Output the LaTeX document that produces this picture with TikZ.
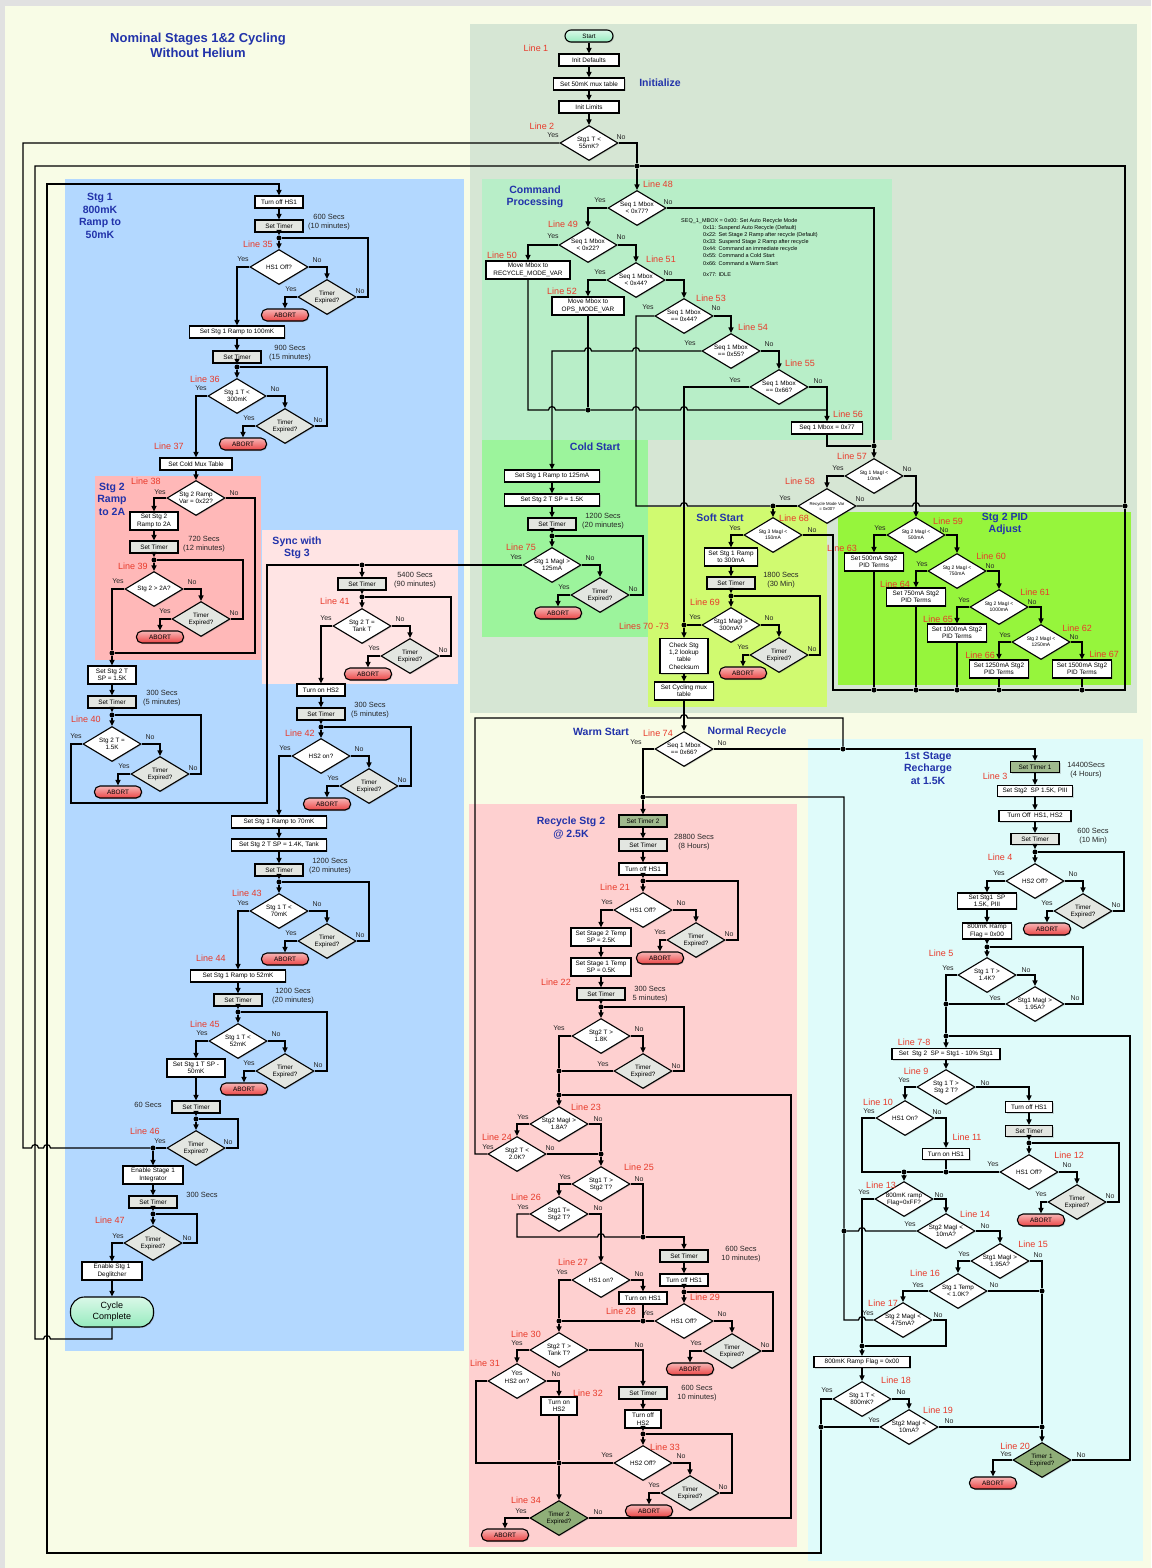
\documentclass[tikz,border=0pt]{standalone}
\usepackage{fontspec}
\setmainfont{Liberation Sans}
\usetikzlibrary{arrows.meta,shapes.geometric,shadows}
\definecolor{bgY}{RGB}{248,252,230}
\definecolor{edgeG}{RGB}{225,225,225}
\definecolor{initG}{RGB}{214,230,212}
\definecolor{cmdG}{RGB}{184,238,200}
\definecolor{coldG}{RGB}{156,244,156}
\definecolor{softY}{RGB}{208,250,112}
\definecolor{pidG}{RGB}{150,245,60}
\definecolor{stgB}{RGB}{179,216,255}
\definecolor{rampR}{RGB}{255,184,184}
\definecolor{syncP}{RGB}{255,228,228}
\definecolor{recP}{RGB}{254,208,208}
\definecolor{rechC}{RGB}{223,251,250}
\definecolor{ttlB}{RGB}{34,51,170}
\definecolor{lnR}{RGB}{232,58,42}
\definecolor{oliveG}{RGB}{160,186,142}
\definecolor{oliveD}{RGB}{143,174,120}
\definecolor{timG}{RGB}{227,230,225}
\definecolor{abR}{RGB}{235,70,70}
\definecolor{termG}{RGB}{150,235,190}
\tikzset{
 shd/.style={drop shadow={opacity=0.3, shadow xshift=1pt, shadow yshift=-1pt}},
 bx/.style={draw, line width=1.1pt, fill=white, align=center, inner sep=0.5pt,
   font=\fontsize{6.4}{7.4}\selectfont, minimum height=12pt, shd},
 tbx/.style={bx, fill=timG},
 obx/.style={bx, fill=oliveG},
 dia/.style={diamond, aspect=1.66, draw, line width=1.1pt, fill=white, align=center, inner sep=0pt,
   minimum width=58pt, minimum height=35pt, font=\fontsize{6.3}{7}\selectfont, shd},
 sdia/.style={dia, font=\fontsize{5}{5.8}\selectfont},
 tdia/.style={dia, fill=timG},
 odia/.style={dia, fill=oliveD},
 abort/.style={draw, line width=1.1pt, rounded corners=5.5pt, minimum width=47pt, minimum height=12pt,
   inner sep=0pt, top color=abR!40, bottom color=abR, font=\fontsize{6.4}{7}\selectfont, shd},
 term/.style={draw, line width=1.1pt, rounded corners=6pt, top color=termG!35, bottom color=termG, inner sep=0pt, shd},
 dot/.style={circle, fill=black, inner sep=0pt, minimum size=5pt},
 ln/.style={draw, line width=1.25pt},
 ar/.style={draw, line width=1.25pt, -{Triangle[length=5.5pt,width=5pt]}},
 lbl/.style={text=lnR, font=\fontsize{9}{10}\selectfont, inner sep=0pt},
 yn/.style={font=\fontsize{7}{8}\selectfont, text=black!85, inner sep=0pt},
 note/.style={font=\fontsize{7.5}{9.5}\selectfont, align=center, text=black!85, inner sep=0pt},
 ttl/.style={text=ttlB, font=\bfseries\fontsize{10.5}{12.5}\selectfont, align=center, inner sep=0pt},
 seq/.style={font=\fontsize{5.5}{7.2}\selectfont, inner sep=0pt, align=left},
}
% #1 name, #2 Dx, #3 Dy, #4 text, #5 Tx, #6 loop x, #7 abort x
\newcommand{\waitloop}[7]{%
 \node[dot] (#1j) at (#2,{#3-29}) {};
 \node[dia] (#1d) at (#2,#3) {#4};
 \node[tdia] (#1t) at (#5,{#3+30}) {Timer\\Expired?};
 \node[abort] (#1a) at (#7,{#3+48}) {ABORT};
 \draw[ar] (#1j) -- (#1d);
 \draw[ar] (#1d.east) -| (#1t.north);
 \draw[ar] (#1t.west) -| (#1a.north);
 \draw[ln] (#1t.east) -| (#6,{#3-29}) -- (#1j);
 \node[yn] at ({#2+38},{#3-7}) {No};
 \node[yn] at ({#5-36},{#3+22}) {Yes};
 \node[yn] at ({#5+33},{#3+24}) {No};
 \node[yn] at ({#2-36},{#3-8}) {Yes};
}
\newcommand{\hopR}[2]{-- ({#1-3.5},#2) .. controls ({#1-3.5},{#2-4.5}) and ({#1+3.5},{#2-4.5}) .. ({#1+3.5},#2)}
\newcommand{\hopL}[2]{-- ({#1+3.5},#2) .. controls ({#1+3.5},{#2-4.5}) and ({#1-3.5},{#2-4.5}) .. ({#1-3.5},#2)}
\begin{document}
\begin{tikzpicture}[x=1pt,y=-1pt]
\useasboundingbox (0,0) rectangle (1151,1568);
% ---------- backgrounds
\fill[edgeG] (0,0) rectangle (1151,1568);
\fill[bgY] (5,6) rectangle (1151,1568);
\fill[initG] (470,24) rectangle (1137,713);
\fill[cmdG] (482,179) rectangle (892,440);
\fill[coldG] (482,440) rectangle (648,637);
\fill[softY] (648,507) rectangle (827,707);
\fill[pidG] (838,512) rectangle (1131,685);
\fill[stgB] (65,179) rectangle (464,1351);
\fill[rampR] (95,476) rectangle (261,660);
\fill[syncP] (262,530) rectangle (458,684);
\fill[recP] (469,804) rectangle (797,1547);
\fill[rechC] (808,739) rectangle (1143,1561);

\node[ttl, font=\bfseries\fontsize{13}{15}\selectfont] (title) at (198,45) {Nominal Stages 1\&2 Cycling\\Without Helium};

% ---------- Initialize
\node[term, minimum width=48pt, minimum height=12pt, font=\fontsize{6.3}{7}\selectfont] (start) at (589,36) {Start};
\node[bx, minimum width=60pt] (idef) at (589,60) {Init Defaults};
\node[bx, minimum width=71pt] (mux50) at (589,84) {Set 50mK mux table};
\node[bx, minimum width=60pt] (ilim) at (589,107) {Init Limits};
\node[dia] (d2) at (589,143) {Stg1 T <\\55mK?};
\node[ttl] (tinit) at (660,83) {Initialize};
\node[lbl] at (536,48) {Line 1};
\node[lbl] at (542,126) {Line 2};
\node[yn] at (553,135) {Yes};
\node[yn] at (621,137) {No};
\draw[ar] (start) -- (idef);
\draw[ar] (idef) -- (mux50);
\draw[ar] (mux50) -- (ilim);
\draw[ar] (ilim) -- (d2);
\node[dot] (jtop) at (637,166) {};
\draw[ln] (d2.east) -| (jtop);

% ---------- Command processing
\node[ttl] (tcmd) at (535,197) {Command\\Processing};
\node[dia] (d48) at (637,208) {Seq 1 Mbox\\< 0x77?};
\draw[ar] (jtop) -- (d48);
\node[lbl] at (658,184) {Line 48};
\node[yn] at (600,200) {Yes}; \node[yn] at (668,202) {No};
\node[dia] (d49) at (588,245) {Seq 1 Mbox\\< 0x22?};
\draw[ar] (d48.west) -| (d49.north);
\node[lbl] at (563,224) {Line 49};
\node[yn] at (553,236) {Yes}; \node[yn] at (621,237) {No};
\node[bx, minimum width=84pt, minimum height=18pt] (b50) at (528,270) {Move Mbox to\\RECYCLE\_MODE\_VAR};
\draw[ar] (d49.west) -| (b50.north);
\node[lbl] at (502,255) {Line 50};
\node[dia] (d51) at (636,280) {Seq 1 Mbox\\< 0x44?};
\draw[ar] (d49.east) -| (d51.north);
\node[lbl] at (661,259) {Line 51};
\node[yn] at (600,272) {Yes}; \node[yn] at (668,273) {No};
\node[bx, minimum width=72pt, minimum height=18pt] (b52) at (588,306) {Move Mbox to\\OPS\_MODE\_VAR};
\draw[ar] (d51.west) -| (b52.north);
\node[lbl] at (562,291) {Line 52};
\node[dia] (d53) at (684,316) {Seq 1 Mbox\\== 0x44?};
\draw[ar] (d51.east) -| (d53.north);
\node[lbl] at (711,298) {Line 53};
\node[yn] at (648,307) {Yes}; \node[yn] at (716,308) {No};
\node[dia] (d54) at (731,351) {Seq 1 Mbox\\== 0x55?};
\draw[ar] (d53.east) -| (d54.north);
\node[lbl] at (753,327) {Line 54};
\node[yn] at (690,343) {Yes}; \node[yn] at (769,344) {No};
\node[dia] (d55) at (779,387) {Seq 1 Mbox\\== 0x66?};
\draw[ar] (d54.east) -| (d55.north);
\node[lbl] at (800,363) {Line 55};
\node[yn] at (735,380) {Yes}; \node[yn] at (818,381) {No};
\node[bx, minimum width=71pt] (b56) at (827,428) {Seq 1 Mbox = 0x77};
\draw[ar] (d55.east) -| (b56.north);
\node[lbl] at (848,414) {Line 56};
\node[seq, anchor=west] (seq0) at (681,221) {SEQ\_1\_MBOX = 0x00: Set Auto Recycle Mode};
\node[seq, anchor=north west] (seq1) at (703,225) {0x11: Suspend Auto Recycle (Default)\\0x22: Set Stage 2 Ramp after recycle (Default)\\0x33: Suspend Stage 2 Ramp after recycle\\0x44: Command an immediate recycle\\0x55: Command a Cold Start\\0x66: Command a Warm Start};
\node[seq, anchor=west] (seq2) at (703,275) {0x77: IDLE};
\node[dot] (j52) at (588,410) {};
\draw[ln] (b52.south) -- (j52);
\draw[ln] (b50.south) -- (528,410) \hopR{552}{410} -- (j52) \hopR{636}{410} \hopR{684}{410} -- (827,410);

% Line 57 / 58
\node[dot] (j57) at (874,446) {};
\draw[ln] (d48.east) -| (j57);
\draw[ln] (b56.south) |- (j57);
\node[sdia] (d57) at (874,476) {Stg 1 MagI <\\10mA};
\draw[ar] (j57) -- (d57);
\node[lbl] at (852,456) {Line 57};
\node[yn] at (838,468) {Yes}; \node[yn] at (907,469) {No};
\node[dia, font=\fontsize{4.3}{5}\selectfont] (d58) at (827,506) {Recycle Mode Var\\= 0x00?};
\draw[ar] (d57.west) -| (d58.north);
\node[lbl] at (800,481) {Line 58};
\node[yn] at (785,498) {Yes}; \node[yn] at (860,499) {No};
\node[dot] (j68) at (773,506) {};
\node[dot] (j58) at (1125,506) {};
\draw[ln] (d58.west) -- (j68);
\draw[ln] (d58.east) \hopR{916}{506} -- (j58);
\draw[ln] (d53.west) -| (636,506) \hopR{684}{506} -- (j68);

% ---------- Cold start
\node[ttl] (tcold) at (595,447) {Cold Start};
\node[bx, minimum width=95pt] (cs1) at (552,476) {Set Stg 1 Ramp to 125mA};
\node[bx, minimum width=95pt] (cs2) at (552,500) {Set Stg 2 T SP = 1.5K};
\node[tbx, minimum width=48pt] (cs3) at (552,524) {Set Timer};
\node[note] at (603,521) {1200 Secs\\(20 minutes)};
\draw[ar] (d54.west) \hopL{636}{351} \hopL{588}{351} -- (552,351) -- (cs1.north);
\draw[ar] (cs1) -- (cs2);
\draw[ar] (cs2) -- (cs3);
\waitloop{l75}{552}{565}{Stg 1 MagI >\\125mA}{600}{643}{558}
\draw[ar] (cs3) -- (l75j);
\node[lbl] at (521,547) {Line 75};
\node[dot] (jsync) at (362,565) {};
\draw[ln] (l75d.west) -- (jsync);

% ---------- Soft start
\node[ttl] (tsoft) at (720,518) {Soft Start};
\node[sdia] (d68) at (773,535) {Stg 3 MagI <\\150mA};
\draw[ar] (j68) -- (d68);
\node[lbl] at (794,518) {Line 68};
\node[yn] at (735,528) {Yes}; \node[yn] at (812,530) {No};
\node[bx, minimum width=53pt, minimum height=18pt] (ss1) at (731,557) {Set Stg 1 Ramp\\to 300mA};
\draw[ar] (d68.west) -| (ss1.north);
\node[tbx, minimum width=48pt] (ss2) at (731,583) {Set Timer};
\draw[ar] (ss1) -- (ss2);
\node[note] at (781,580) {1800 Secs\\(30 Min)};
\waitloop{l69}{731}{625}{Stg1 MagI >\\300mA?}{779}{820}{743}
\draw[ar] (ss2) -- (l69j);
\node[lbl] at (705,602) {Line 69};
\node[dot] (j70) at (684,625) {};
\draw[ln] (l69d.west) -- (j70);
\draw[ln] (d55.west) -| (j70);
\node[lbl] at (644,626) {Lines 70 -73};
\node[bx, minimum width=48pt, minimum height=35pt] (chk) at (684,656) {Check Stg\\1,2 lookup\\table\\Checksum};
\draw[ar] (j70) -- (chk);
\node[bx, minimum width=59pt, minimum height=18pt] (cmux) at (684,691) {Set Cycling mux\\table};
\draw[ar] (chk) -- (cmux);

% ---------- Stg 2 PID adjust
\node[ttl] (tpid) at (1005,524) {Stg 2 PID\\Adjust};
\node[sdia] (d59) at (916,535) {Stg 2 MagI <\\500mA};
\draw[ar] (d57.east) -| (d59.north);
\node[lbl] at (948,521) {Line 59};
\node[yn] at (880,528) {Yes}; \node[yn] at (944,530) {No};
\node[bx, minimum width=59pt, minimum height=18pt] (p63) at (874,562) {Set 500mA Stg2\\PID Terms};
\draw[ar] (d59.west) -| (p63.north);
\node[lbl] at (842,548) {Line 63};
\node[sdia] (d60) at (957,571) {Stg 2 MagI <\\750mA};
\draw[ar] (d59.east) -| (d60.north);
\node[lbl] at (991,556) {Line 60};
\node[yn] at (922,564) {Yes}; \node[yn] at (990,566) {No};
\node[bx, minimum width=59pt, minimum height=18pt] (p64) at (916,597) {Set 750mA Stg2\\PID Terms};
\draw[ar] (d60.west) -| (p64.north);
\node[lbl] at (895,584) {Line 64};
\node[sdia] (d61) at (999,607) {Stg 2 MagI <\\1000mA};
\draw[ar] (d60.east) -| (d61.north);
\node[lbl] at (1035,592) {Line 61};
\node[yn] at (964,600) {Yes}; \node[yn] at (1032,602) {No};
\node[bx, minimum width=59pt, minimum height=18pt] (p65) at (957,633) {Set 1000mA Stg2\\PID Terms};
\draw[ar] (d61.west) -| (p65.north);
\node[lbl] at (938,619) {Line 65};
\node[sdia] (d62) at (1041,642) {Stg 2 MagI <\\1250mA};
\draw[ar] (d61.east) -| (d62.north);
\node[lbl] at (1077,628) {Line 62};
\node[yn] at (1005,635) {Yes}; \node[yn] at (1074,637) {No};
\node[bx, minimum width=59pt, minimum height=18pt] (p66) at (999,669) {Set 1250mA Stg2\\PID Terms};
\node[bx, minimum width=59pt, minimum height=18pt] (p67) at (1082,669) {Set 1500mA Stg2\\PID Terms};
\draw[ar] (d62.west) -| (p66.north);
\draw[ar] (d62.east) -| (p67.north);
\node[lbl] at (980,655) {Line 66};
\node[lbl] at (1104,654) {Line 67};
\node[dot] (bp63) at (874,690) {};
\node[dot] (bp64) at (916,690) {};
\node[dot] (bp65) at (957,690) {};
\node[dot] (bp66) at (999,690) {};
\node[dot] (bp67) at (1082,690) {};
\draw[ln] (p63) -- (bp63);
\draw[ln] (p64) -- (bp64);
\draw[ln] (p65) -- (bp65);
\draw[ln] (p66) -- (bp66);
\draw[ln] (p67) -- (bp67);
\draw[ln] (d68.east) -| (833,690) -- (bp63) -- (bp64) -- (bp65) -- (bp66) -- (bp67) -- (1125,690) -- (j58) -- (1125,166) -- (jtop);

% ---------- Line 74
\node[ttl] (twarm) at (601,732) {Warm Start};
\node[ttl] (tnorm) at (747,732) {Normal Recycle};
\node[lbl] at (658,733) {Line 74};
\node[dia] (d74) at (684,749) {Seq 1 Mbox\\== 0x66?};
\draw[ar] (cmux) -- (d74);
\node[yn] at (636,742) {Yes}; \node[yn] at (722,743) {No};
\node[dot] (j74a) at (843,749) {};
\node[dot] (jrec) at (643,797) {};
\draw[ln] (d74.west) -| (jrec);
\draw[ln] (d74.east) -- (j74a);

% ---------- Recycle Stg 2
\node[ttl] (trec) at (571,828) {Recycle Stg 2\\@ 2.5K};
\node[obx, minimum width=48pt] (stt2) at (643,821) {Set Timer 2};
\draw[ar] (jrec) -- (stt2);
\node[tbx, minimum width=48pt] (r1) at (643,845) {Set Timer};
\node[note] at (694,842) {28800 Secs\\(8 Hours)};
\node[bx, minimum width=48pt] (r2) at (643,869) {Turn off HS1};
\draw[ar] (stt2) -- (r1);
\draw[ar] (r1) -- (r2);
\waitloop{l21}{643}{910}{HS1 Off?}{696}{738}{660}
\draw[ar] (r2) -- (l21j);
\node[lbl] at (615,887) {Line 21};
\node[bx, minimum width=60pt, minimum height=18pt] (r3) at (601,937) {Set Stage 2 Temp\\SP = 2.5K};
\draw[ar] (l21d.west) -| (r3.north);
\node[bx, minimum width=60pt, minimum height=18pt] (r4) at (601,967) {Set Stage 1 Temp\\SP = 0.5K};
\draw[ar] (r3) -- (r4);
\node[lbl] at (556,982) {Line 22};
\node[tbx, minimum width=48pt] (r5) at (601,994) {Set Timer};
\draw[ar] (r4) -- (r5);
\node[note] at (650,994) {300 Secs\\5 minutes)};
\node[dot] (l22j) at (601,1007) {};
\draw[ar] (r5) -- (l22j);
\node[dia] (l22d) at (601,1036) {Stg2 T >\\1.8K};
\draw[ar] (l22j) -- (l22d);
\node[tdia] (l22t) at (643,1071) {Timer\\Expired?};
\draw[ar] (l22d.east) -| (l22t.north);
\node[dot] (j22) at (559,1071) {};
\draw[ln] (l22d.west) -| (j22);
\draw[ln] (l22t.west) -- (j22);
\draw[ln] (l22t.east) -| (684,1007) -- (l22j);
\node[yn] at (559,1028) {Yes}; \node[yn] at (639,1029) {No};
\node[yn] at (603,1064) {Yes}; \node[yn] at (676,1066) {No};
\node[dot] (j23) at (559,1095) {};
\draw[ln] (j22) -- (j23);
\node[dia] (d23) at (559,1124) {Stg2 MagI >\\1.8A?};
\draw[ar] (j23) -- (d23);
\node[lbl] at (586,1107) {Line 23};
\node[yn] at (523,1117) {Yes}; \node[yn] at (598,1119) {No};
\node[dia] (d24) at (517,1154) {Stg2 T <\\2.0K?};
\draw[ar] (d23.west) -| (d24.north);
\node[lbl] at (497,1137) {Line 24};
\node[yn] at (488,1147) {Yes}; \node[yn] at (550,1148) {No};
\node[dot] (j25) at (601,1154) {};
\draw[ln] (d23.east) -| (j25);
\draw[ln] (d24.east) -- (j25);
\node[dia] (d25) at (601,1184) {Stg1 T >\\Stg2 T?};
\draw[ar] (j25) -- (d25);
\node[lbl] at (639,1167) {Line 25};
\node[yn] at (565,1177) {Yes}; \node[yn] at (639,1179) {No};
\node[dia] (d26) at (559,1214) {Stg1 T=\\Stg2 T?};
\draw[ar] (d25.west) -| (d26.north);
\node[lbl] at (526,1197) {Line 26};
\node[yn] at (523,1207) {Yes}; \node[yn] at (598,1208) {No};
\node[dot] (j26) at (643,1237) {};
\draw[ln] (d25.east) -| (j26);
\draw[ln] (d26.west) -| (517,1237) \hopR{601}{1237} -- (j26);
\node[dia] (d27) at (601,1280) {HS1 on?};
\draw[ar] (d26.east) -| (d27.north);
\node[tbx, minimum width=48pt] (r6) at (684,1256) {Set Timer};
\draw[ar] (j26) -| (r6.north);
\node[note] at (741,1254) {600 Secs\\10 minutes)};
\node[bx, minimum width=48pt] (r7) at (684,1280) {Turn off HS1};
\draw[ar] (r6) -- (r7);
\waitloop{l29}{684}{1321}{HS1 Off?}{732}{773}{690}
\draw[ar] (r7) -- (l29j);
\node[lbl] at (705,1297) {Line 29};
\node[lbl] at (573,1262) {Line 27};
\node[yn] at (562,1272) {Yes}; \node[yn] at (639,1274) {No};
\node[bx, minimum width=48pt] (r8) at (643,1298) {Turn on HS1};
\draw[ar] (d27.east) -| (r8.north);
\node[lbl] at (621,1311) {Line 28};
\node[dot] (j28) at (643,1321) {};
\node[dot] (j30) at (559,1321) {};
\draw[ln] (r8) -- (j28);
\draw[ln] (l29d.west) -- (j28) -- (j30);
\draw[ln] (d27.west) -| (j30);
\node[dia] (d30) at (559,1350) {Stg2 T >\\Tank T?};
\draw[ar] (j30) -- (d30);
\node[lbl] at (526,1334) {Line 30};
\node[yn] at (517,1343) {Yes}; \node[yn] at (639,1345) {No};
\node[dia] (d31) at (517,1381) {HS2 on?};
\draw[ar] (d30.west) -| (d31.north);
\node[lbl] at (485,1363) {Line 31};
\node[yn] at (517,1373) {Yes}; \node[yn] at (556,1374) {No};
\node[bx, minimum width=36pt, minimum height=18pt] (r9) at (559,1406) {Turn on\\HS2};
\draw[ar] (d31.east) -| (r9.north);
\node[lbl] at (588,1393) {Line 32};
\node[dot] (j34) at (559,1463) {};
\draw[ln] (r9) -- (j34);
\draw[ln] (d31.west) -| (476,1463) -- (j34);
\node[tbx, minimum width=48pt] (r10) at (643,1393) {Set Timer};
\draw[ar] (d30.east) -| (r10.north);
\node[note] at (697,1393) {600 Secs\\10 minutes)};
\node[bx, minimum width=36pt, minimum height=18pt] (r11) at (643,1419) {Turn off\\HS2};
\draw[ar] (r10) -- (r11);
\waitloop{l33}{643}{1463}{HS2 Off?}{690}{732}{649}
\draw[ar] (r11) -- (l33j);
\node[lbl] at (665,1447) {Line 33};
\draw[ln] (l33d.west) -- (j34);
\node[odia] (d34) at (559,1518) {Timer 2\\Expired?};
\draw[ar] (j34) -- (d34);
\node[lbl] at (526,1500) {Line 34};
\node[yn] at (521,1511) {Yes}; \node[yn] at (598,1512) {No};
\node[abort] (a34) at (505,1535) {ABORT};
\draw[ar] (d34.west) -| (a34.north);
\draw[ln] (d34.east) -| (791,1095) -- (j23);

% ---------- 1st stage recharge
\node[ttl] (trech) at (928,768) {1st Stage\\Recharge\\at 1.5K};
\node[obx, minimum width=49pt, minimum height=11pt] (st1) at (1035,767) {Set Timer 1};
\draw[ar] (j74a) -| (st1.north);
\node[note] at (1086,770) {14400Secs\\(4 Hours)};
\node[lbl] at (995,776) {Line 3};
\node[bx, minimum width=75pt, minimum height=11pt] (c1) at (1035,791) {Set Stg2~ SP 1.5K, PIII};
\node[bx, minimum width=72pt, minimum height=11pt] (c2) at (1035,816) {Turn Off~ HS1, HS2};
\node[tbx, minimum width=48pt, minimum height=11pt] (c3) at (1035,839) {Set Timer};
\node[note] at (1093,836) {600 Secs\\(10 Min)};
\draw[ar] (st1) -- (c1);
\draw[ar] (c1) -- (c2);
\draw[ar] (c2) -- (c3);
\waitloop{l4}{1035}{881}{HS2 Off?}{1083}{1124}{1047}
\draw[ar] (c3) -- (l4j);
\node[lbl] at (1000,857) {Line 4};
\node[bx, minimum width=59pt, minimum height=16pt] (c4) at (987,901) {Set Stg1~ SP\\1.5K, PIII};
\draw[ar] (l4d.west) -| (c4.north);
\node[bx, minimum width=49pt, minimum height=16pt] (c5) at (987,931) {800mK Ramp\\Flag = 0x00};
\draw[ar] (c4) -- (c5);
\node[dot] (l5j) at (987,947) {};
\draw[ar] (c5) -- (l5j);
\node[dia] (d5) at (987,975) {Stg 1 T >\\1.4K?};
\draw[ar] (l5j) -- (d5);
\node[lbl] at (941,953) {Line 5};
\node[yn] at (948,968) {Yes}; \node[yn] at (1026,970) {No};
\node[dia] (d5b) at (1035,1004) {Stg1 MagI >\\1.95A?};
\draw[ar] (d5.east) -| (d5b.north);
\node[yn] at (995,998) {Yes}; \node[yn] at (1075,998) {No};
\node[dot] (j5) at (946,1004) {};
\draw[ln] (d5.west) -| (j5);
\draw[ln] (d5b.west) -- (j5);
\draw[ln] (d5b.east) -| (1083,947) -- (l5j);
\node[dot] (j7) at (946,1036) {};
\draw[ln] (j5) -- (j7);
\node[lbl] at (914,1042) {Line 7-8};
\node[bx, minimum width=108pt, minimum height=11pt] (c6) at (946,1054) {Set~ Stg 2~ SP = Stg1 - 10\% Stg1};
\draw[ar] (j7) -- (c6);
\node[dia] (d9) at (946,1087) {Stg 1 T >\\Stg 2 T?};
\draw[ar] (c6) -- (d9);
\node[lbl] at (916,1071) {Line 9};
\node[yn] at (904,1080) {Yes}; \node[yn] at (985,1083) {No};
\node[dia] (d10) at (905,1118) {HS1 On?};
\draw[ar] (d9.west) -| (d10.north);
\node[lbl] at (878,1102) {Line 10};
\node[yn] at (869,1111) {Yes}; \node[yn] at (937,1112) {No};
\node[bx, minimum width=47pt, minimum height=11pt] (c7) at (1029,1107) {Turn off HS1};
\draw[ar] (d9.east) -| (c7.north);
\node[bx, minimum width=47pt, minimum height=11pt] (c8) at (946,1154) {Turn on HS1};
\draw[ar] (d10.east) -| (c8.north);
\node[lbl] at (967,1137) {Line 11};
\node[tbx, minimum width=47pt, minimum height=11pt] (c9) at (1029,1131) {Set Timer};
\draw[ar] (c7) -- (c9);
\waitloop{l12}{1029}{1172}{HS1 Off?}{1077}{1119}{1041}
\draw[ar] (c9) -- (l12j);
\node[lbl] at (1069,1155) {Line 12};
\node[dot] (j11) at (946,1172) {};
\node[dot] (j13) at (904,1172) {};
\draw[ln] (c8) -- (j11);
\draw[ln] (d10.west) -| (862,1172) -- (j13) -- (j11);
\draw[ln] (l12d.west) -- (j11);
\node[dia] (d13) at (904,1199) {800mK ramp\\Flag=0xFF?};
\draw[ar] (j13) -- (d13);
\node[lbl] at (881,1185) {Line 13};
\node[yn] at (864,1192) {Yes}; \node[yn] at (939,1195) {No};
\node[dia] (d14) at (946,1231) {Stg2 MagI <\\10mA?};
\draw[ar] (d13.east) -| (d14.north);
\node[lbl] at (975,1214) {Line 14};
\node[yn] at (910,1224) {Yes}; \node[yn] at (985,1226) {No};
\node[dot] (j14) at (844,1231) {};
\draw[ln] (d14.west) \hopL{862}{1231} -- (j14);
\node[dia] (d15) at (1000,1261) {Stg1 MagI >\\1.95A?};
\draw[ar] (d14.east) -| (d15.north);
\node[lbl] at (1033,1244) {Line 15};
\node[yn] at (964,1254) {Yes}; \node[yn] at (1038,1255) {No};
\node[dia] (d16) at (958,1291) {Stg 1 Temp\\< 1.0K?};
\draw[ar] (d15.west) -| (d16.north);
\node[lbl] at (925,1273) {Line 16};
\node[yn] at (918,1285) {Yes}; \node[yn] at (994,1285) {No};
\node[dot] (j15) at (1042,1291) {};
\draw[ln] (d15.east) -| (j15);
\draw[ln] (d16.east) -- (j15);
\node[dia] (d17) at (903,1320) {Stg 2 MagI <\\475mA?};
\draw[ar] (d16.west) -| (d17.north);
\node[lbl] at (883,1303) {Line 17};
\node[yn] at (868,1313) {Yes}; \node[yn] at (938,1315) {No};
\node[dot] (j18) at (862,1346) {};
\draw[ln] (d13.west) -| (j18);
\draw[ln] (d17.east) -| (946,1346) -- (j18);
\draw[ln] (d17.west) \hopL{862}{1320} -- (844,1320) -- (j14) -- (844,797) -- (jrec);
\node[bx, minimum width=96pt, minimum height=11pt] (c10) at (862,1362) {800mK Ramp Flag = 0x00};
\draw[ar] (j18) -- (c10);
\node[dia] (d18) at (862,1399) {Stg 1 T <\\800mK?};
\draw[ar] (c10) -- (d18);
\node[lbl] at (896,1380) {Line 18};
\node[yn] at (827,1390) {Yes}; \node[yn] at (901,1392) {No};
\node[dia] (d19) at (909,1427) {Stg2 MagI <\\10mA?};
\draw[ar] (d18.east) -| (d19.north);
\node[lbl] at (938,1410) {Line 19};
\node[yn] at (874,1420) {Yes}; \node[yn] at (949,1421) {No};
\node[dot] (j19) at (821,1427) {};
\node[dot] (j20) at (1042,1427) {};
\draw[ln] (d18.west) -| (j19);
\draw[ln] (d19.west) -- (j19);
\draw[ln] (d19.east) -- (j20);
\draw[ln] (j15) -- (j20);
\node[odia] (d20) at (1042,1460) {Timer 1\\Expired?};
\draw[ar] (j20) -- (d20);
\node[lbl] at (1015,1446) {Line 20};
\node[yn] at (1006,1454) {Yes}; \node[yn] at (1081,1455) {No};
\node[abort] (a20) at (993,1483) {ABORT};
\draw[ar] (d20.west) -| (a20.north);
\draw[ln] (d20.east) -| (1130,1036) -- (j7);

% ---------- Stg 1 (blue)
\node[ttl] (tstg1) at (100,216) {Stg 1\\800mK\\Ramp to\\50mK};
\node[bx, minimum width=48pt] (s1) at (279,202) {Turn off HS1};
\node[tbx, minimum width=48pt] (s2) at (279,226) {Set Timer};
\draw[ar] (s1) -- (s2);
\node[note] at (329,222) {600 Secs\\(10 minutes)};
\waitloop{l35}{279}{267}{HS1 Off?}{327}{368}{285}
\draw[ar] (s2) -- (l35j);
\node[lbl] at (258,244) {Line 35};
\node[bx, minimum width=95pt] (s3) at (237,332) {Set Stg 1 Ramp to 100mK};
\draw[ar] (l35d.west) -| (s3.north);
\node[tbx, minimum width=48pt] (s4) at (237,357) {Set Timer};
\draw[ar] (s3) -- (s4);
\node[note] at (290,353) {900 Secs\\(15 minutes)};
\waitloop{l36}{237}{396}{Stg 1 T <\\300mK}{285}{327}{243}
\draw[ar] (s4) -- (l36j);
\node[lbl] at (205,379) {Line 36};
\node[lbl] at (169,446) {Line 37};
\node[bx, minimum width=72pt] (s5) at (196,464) {Set Cold Mux Table};
\draw[ar] (l36d.west) -| (s5.north);

% Stg 2 ramp
\node[ttl] (tramp) at (112,499) {Stg 2\\Ramp\\to 2A};
\node[lbl] at (146,481) {Line 38};
\node[dia] (d38) at (196,498) {Stg 2 Ramp\\Var = 0x22?};
\draw[ar] (s5) -- (d38);
\node[yn] at (160,492) {Yes}; \node[yn] at (234,493) {No};
\node[bx, minimum width=48pt, minimum height=18pt] (s6) at (154,521) {Set Stg 2\\Ramp to 2A};
\draw[ar] (d38.west) -| (s6.north);
\node[tbx, minimum width=48pt] (s7) at (154,547) {Set Timer};
\draw[ar] (s6) -- (s7);
\node[note] at (204,544) {720 Secs\\(12 minutes)};
\waitloop{l39}{154}{589}{Stg 2 > 2A?}{201}{243}{160}
\draw[ar] (s7) -- (l39j);
\node[lbl] at (133,566) {Line 39};
\node[dot] (j39) at (112,653) {};
\draw[ln] (l39d.west) -| (j39);
\draw[ln] (d38.east) -| (255,653) -- (j39);
\node[bx, minimum width=48pt, minimum height=18pt] (s8) at (112,675) {Set Stg 2 T\\SP = 1.5K};
\draw[ar] (j39) -- (s8);
\node[tbx, minimum width=48pt] (s9) at (112,702) {Set Timer};
\draw[ar] (s8) -- (s9);
\node[note] at (162,698) {300 Secs\\(5 minutes)};
\waitloop{l40}{112}{744}{Stg 2 T =\\1.5K}{160}{201}{118}
\draw[ar] (s9) -- (l40j);
\node[lbl] at (86,719) {Line 40};
\draw[ln] (l40d.west) -| (71,803) -- (267,803) -- (267,565) -- (jsync);

% Sync with Stg 3
\node[ttl] (tsync) at (297,548) {Sync with\\Stg 3};
\node[tbx, minimum width=48pt] (y1) at (362,584) {Set Timer};
\draw[ar] (jsync) -- (y1);
\node[note] at (415,580) {5400 Secs\\(90 minutes)};
\waitloop{l41}{362}{626}{Stg 2 T =\\Tank T}{410}{451}{368}
\draw[ar] (y1) -- (l41j);
\node[lbl] at (335,601) {Line 41};
\node[bx, minimum width=48pt] (y2) at (321,690) {Turn on HS2};
\draw[ar] (l41d.west) -| (y2.north);
\node[tbx, minimum width=48pt] (y3) at (321,714) {Set Timer};
\draw[ar] (y2) -- (y3);
\node[note] at (370,710) {300 Secs\\(5 minutes)};
\waitloop{l42}{321}{756}{HS2 on?}{369}{411}{327}
\draw[ar] (y3) -- (l42j);
\node[lbl] at (300,733) {Line 42};

% rest of Stg 1
\node[bx, minimum width=95pt] (s10) at (279,822) {Set Stg 1 Ramp to 70mK};
\draw[ar] (l42d.west) -| (s10.north);
\node[bx, minimum width=95pt] (s11) at (279,845) {Set Stg 2 T SP = 1.4K, Tank};
\draw[ar] (s10) -- (s11);
\node[tbx, minimum width=48pt] (s12) at (279,870) {Set Timer};
\draw[ar] (s11) -- (s12);
\node[note] at (330,866) {1200 Secs\\(20 minutes)};
\waitloop{l43}{279}{911}{Stg 1 T <\\70mK}{327}{369}{285}
\draw[ar] (s12) -- (l43j);
\node[lbl] at (247,893) {Line 43};
\node[lbl] at (211,958) {Line 44};
\node[bx, minimum width=95pt] (s13) at (238,976) {Set Stg 1 Ramp to 52mK};
\draw[ar] (l43d.west) -| (s13.north);
\node[tbx, minimum width=48pt] (s14) at (238,1000) {Set Timer};
\draw[ar] (s13) -- (s14);
\node[note] at (293,996) {1200 Secs\\(20 minutes)};
\waitloop{l45}{238}{1041}{Stg 1 T <\\52mK}{285}{327}{244}
\draw[ar] (s14) -- (l45j);
\node[lbl] at (205,1024) {Line 45};
\node[bx, minimum width=58pt, minimum height=18pt] (s15) at (196,1068) {Set Stg 1 T SP -\\50mK};
\draw[ar] (l45d.west) -| (s15.north);
\node[tbx, minimum width=48pt] (s16) at (196,1107) {Set Timer};
\draw[ar] (s15) -- (s16);
\node[note] at (148,1105) {60 Secs};
\node[dot] (l46j) at (196,1119) {};
\draw[ar] (s16) -- (l46j);
\node[tdia] (d46) at (196,1148) {Timer\\Expired?};
\draw[ar] (l46j) -- (d46);
\draw[ln] (d46.east) -| (238,1119) -- (l46j);
\node[lbl] at (145,1131) {Line 46};
\node[yn] at (160,1141) {Yes}; \node[yn] at (228,1142) {No};
\node[dot] (j46) at (153,1148) {};
\draw[ln] (d46.west) -- (j46);
\node[bx, minimum width=60pt, minimum height=18pt] (s17) at (153,1175) {Enable Stage 1\\Integrator};
\draw[ar] (j46) -- (s17);
\node[tbx, minimum width=48pt] (s18) at (153,1202) {Set Timer};
\draw[ar] (s17) -- (s18);
\node[note] at (202,1195) {300 Secs};
\node[dot] (l47j) at (153,1214) {};
\draw[ar] (s18) -- (l47j);
\node[tdia] (d47) at (153,1243) {Timer\\Expired?};
\draw[ar] (l47j) -- (d47);
\draw[ln] (d47.east) -| (197,1214) -- (l47j);
\node[lbl] at (110,1220) {Line 47};
\node[yn] at (118,1236) {Yes}; \node[yn] at (187,1238) {No};
\node[bx, minimum width=60pt, minimum height=18pt] (s19) at (112,1271) {Enable Stg 1\\Deglitcher};
\draw[ar] (d47.west) -| (s19.north);
\node[term, minimum width=83pt, minimum height=30pt, font=\fontsize{9}{11}\selectfont, align=center, rounded corners=14pt] (cc) at (112,1312) {Cycle\\Complete};
\draw[ar] (s19) -- (cc);

% ---------- long return lines
\draw[ln] (d2.west) -- (23,143) -- (23,1148) \hopR{35}{1148} \hopR{47}{1148} -- (j46);
\draw[ln] (cc.south) -- (112,1339) \hopL{47}{1339} -- (35,1339) -- (35,166) -- (jtop);
\draw[ar] (j19) -- (821,1553) -- (47,1553) -- (47,184) -| (s1.north);
\draw[ln] (d24.west) -- (475,1154) -- (475,718) \hopR{684}{718} -- (843,718) -- (j74a);
\end{tikzpicture}
\end{document}
